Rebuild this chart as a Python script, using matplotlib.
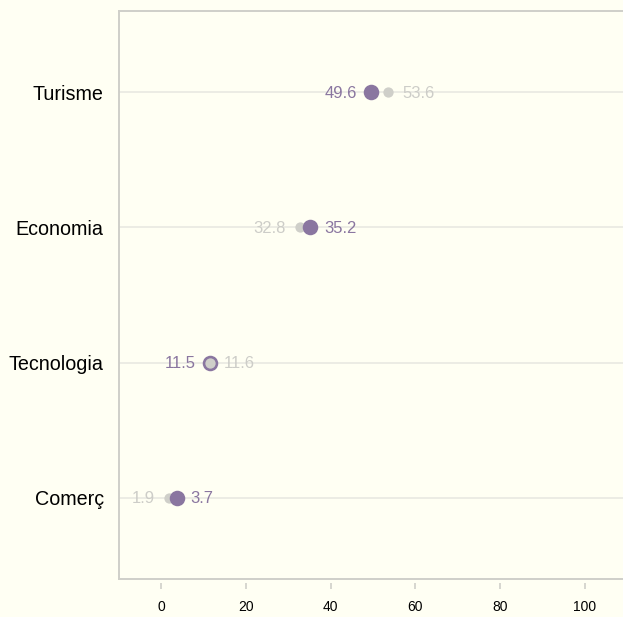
import matplotlib.pyplot as plt

# data
categories = ["Turisme", "Economia", "Tecnologia", "Comerç"]
purple_vals = [49.6, 35.2, 11.5, 3.7]
gray_vals = [53.6, 32.8, 11.6, 1.9]
x_ticks = [0, 20, 40, 60, 80, 100]

bg = "#fffff3"
purple = "#8a76a0"
gray_dot = "#cfcfc9"
gray_txt = "#cdcdc8"

plt.rcParams['font.family'] = ['Liberation Sans', 'DejaVu Sans']

fig = plt.figure(figsize=(6.23, 6.17), dpi=100, facecolor=bg)
ax = fig.add_axes([0.191, 0.0616, 0.809, 0.9206])
ax.set_facecolor(bg)

ypos = list(range(len(categories)))

for y, p, g in zip(ypos, purple_vals, gray_vals):
    ax.axhline(y, color="#e9e9e2", lw=1.2, zorder=1)
    # higher value sits on top
    zp, zg = (4, 3) if p >= g else (3, 4)
    ax.scatter([p], [y], s=125, color=purple, zorder=zp, linewidths=0)
    ax.scatter([g], [y], s=55, color=gray_dot, zorder=zg, linewidths=0)
    # label left of the smaller value, right of the larger one
    if p < g:
        left, lcol, right, rcol = p, purple, g, gray_txt
    else:
        left, lcol, right, rcol = g, gray_txt, p, purple
    ax.annotate(f"{left:.1f}", (left, y), xytext=(-10, -0.8), textcoords="offset points",
                ha="right", va="center", color=lcol, fontsize=12)
    ax.annotate(f"{right:.1f}", (right, y), xytext=(10, -0.8), textcoords="offset points",
                ha="left", va="center", color=rcol, fontsize=12)

ax.set_xlim(-9.9, 109)
ax.set_ylim(3.6, -0.6)
ax.set_yticks(ypos)
ax.set_yticklabels(categories, fontsize=14.2)
ax.set_xticks(x_ticks)
ax.set_xticklabels([str(t) for t in x_ticks], fontsize=12.5)
ax.tick_params(axis="y", length=0, pad=11)
ax.tick_params(axis="x", length=4, width=1.2, color="#d0d0ca", pad=8)

for s in ["left", "top"]:
    ax.spines[s].set_color("#cfcfc9")
    ax.spines[s].set_linewidth(1.4)
ax.spines["right"].set_visible(False)
# ticks sit a little below the bottom border
ax.spines["bottom"].set_position(("outward", 3))
ax.spines["bottom"].set_visible(False)
ax.axhline(3.6, color="#cfcfc9", lw=1.4, clip_on=False, zorder=5)

fig.savefig("out.png", dpi=100, facecolor=bg)
